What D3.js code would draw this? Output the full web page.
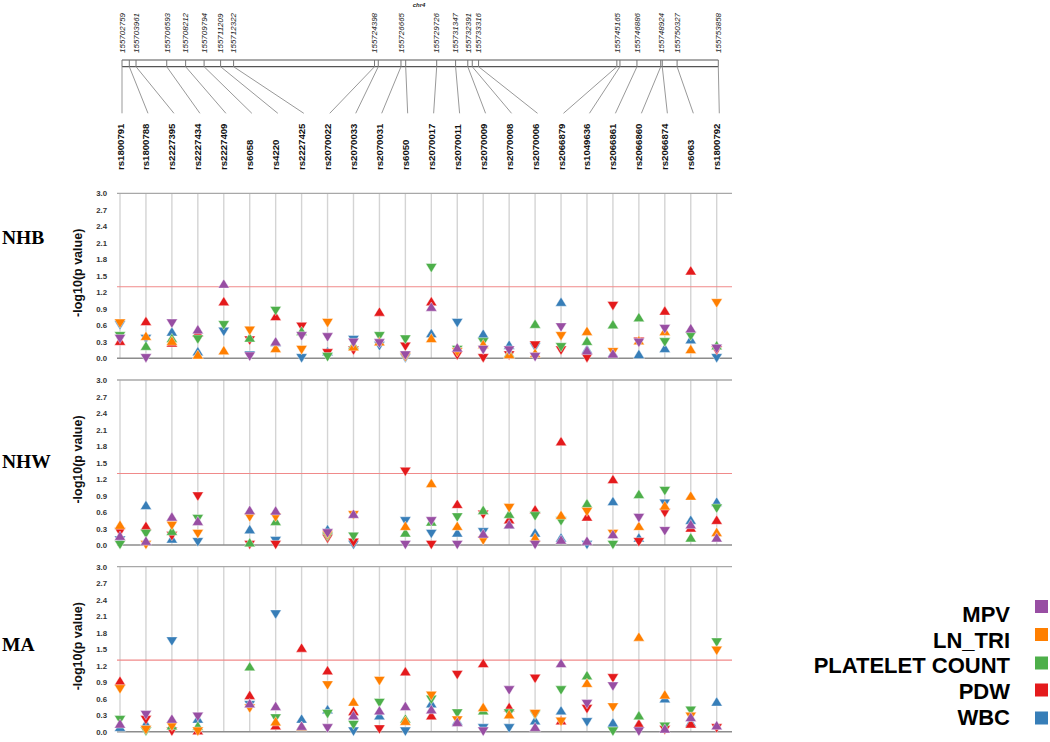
<!DOCTYPE html>
<html><head><meta charset="utf-8">
<script src="https://cdn.jsdelivr.net/npm/d3@7"></script>
<style>body{margin:0;background:#fff}svg{display:block}</style>
</head><body>
<svg id="c" width="1050" height="742"></svg>
<script>
// ---------------- DATA ----------------
const snps = ["rs1800791","rs1800788","rs2227395","rs2227434","rs2227409","rs6058","rs4220","rs2227425",
  "rs2070022","rs2070033","rs2070031","rs6050","rs2070017","rs2070011","rs2070009","rs2070008",
  "rs2070006","rs2066879","rs1049636","rs2066861","rs2066860","rs2066874","rs6063","rs1800792"];
const snpPositions = [155702759,155703385,155703961,155706593,155708212,155709794,155711209,155712322,
  155724398,155724720,155726665,155727070,155729726,155731347,155732391,155732775,
  155733316,155745165,155745430,155746886,155748924,155749055,155750327,155753858];
const positionLabels = [155702759,155703961,155706593,155708212,155709794,155711209,155712322,155724398,
  155726665,155729726,155731347,155732391,155733316,155745165,155746886,155748924,155750327,155753858];
const chromosome = "chr4";
const traits = ["MPV","LN_TRI","PLATELET COUNT","PDW","WBC"];
const traitColors = ["#984ea3","#ff7f00","#4daf4a","#e41a1c","#377eb8"];
const yTicks = [0.0,0.3,0.6,0.9,1.2,1.5,1.8,2.1,2.4,2.7,3.0];
const threshold = 1.301;
const panelNames = ["NHB","NHW","MA"];

// values = -log10(p); direction strings (groups of 4 SNPs): u = up triangle, d = down triangle, - = not tested
const nhbMPV   = [0.35,0.0,0.63,0.53,1.36,0.03,0.31,0.4,0.38,0.28,0.27,0.05,0.94,0.2,0.15,0.14,0.02,0.56,0.15,0.09,0.28,0.53,0.55,0.17];
const nhbMPVDir   = "dddu udud dddd uudd dduu ddud";
const nhbLNTRI = [0.63,0.41,0.32,0.07,0.15,0.5,0.19,0.15,0.64,0.22,0.31,0.02,0.37,0.11,0.26,0.08,0.1,0.4,0.5,0.11,0.33,0.5,0.17,1.0];
const nhbLNTRIDir = "duuu udud duud uduu udud uuud";
const nhbPLT   = [0.4,0.23,0.37,0.34,0.6,0.38,0.86,0.5,0.02,0.25,0.4,0.34,1.64,0.15,0.29,0.1,0.63,0.2,0.32,0.62,0.75,0.29,0.4,0.24];
const nhbPLTDir   = "duud dudu dudd dddu uduu uddu";
const nhbPDW   = [0.32,0.68,0.29,0.47,1.04,0.32,0.77,0.57,0.09,0.14,0.85,0.21,1.04,0.05,0.0,0.05,0.23,0.14,0.0,0.95,0.3,0.87,1.6,0.14];
const nhbPDWDir   = "uuuu udud ddud uddd dddd duud";
const nhbWBC   = [0.6,0.35,0.49,0.13,0.48,0.05,0.3,0.0,0.13,0.33,0.22,0.0,0.46,0.64,0.45,0.25,0.2,1.03,0.17,0.1,0.08,0.19,0.35,0.0];
const nhbWBCDir   = "dduu ddud uddd uduu duuu uuud";

const nhwMPV   = [0.17,0.08,0.52,0.44,null,0.64,0.63,null,0.21,0.57,null,0.0,0.43,0.0,0.21,0.38,0.0,0.1,0.08,0.2,0.49,0.25,0.38,0.14];
const nhwMPVDir   = "uuuu -uu- du-d dduu duuu dduu";
const nhwLNTRI = [0.37,0.0,0.35,0.2,null,0.5,0.5,null,0.18,0.54,null,0.35,1.13,0.35,0.08,0.67,0.14,0.55,0.6,0.2,0.35,0.72,0.9,0.24];
const nhwLNTRIDir = "uddd -dd- dd-u uudd uudd uuuu";
const nhwPLT   = [0.0,0.2,0.26,0.47,null,0.05,0.44,null,0.15,0.15,null,0.23,0.43,0.5,0.64,0.57,0.52,0.43,0.76,0.0,0.93,0.98,0.14,0.66];
const nhwPLTDir   = "ddud -uu- dd-u uduu ddud udud";
const nhwPDW   = [0.23,0.35,0.16,0.88,null,0.0,0.0,null,0.11,0.04,null,1.33,0.0,0.75,0.55,0.47,0.65,1.89,0.52,1.2,0.05,0.58,0.32,0.46];
const nhwPDWDir   = "dudd -dd- dd-d dudu uuuu dduu";
const nhwWBC   = [0.08,0.73,0.12,0.05,null,0.29,0.07,null,0.29,0.0,null,0.43,0.2,0.23,0.23,0.38,0.23,0.14,0.0,0.8,0.14,0.75,0.46,0.79];
const nhwWBCDir   = "duud -ud- ud-d dudu uudu uduu";

const maMPV    = [0.15,0.3,0.24,0.27,null,0.52,0.47,0.11,0.06,0.3,0.39,0.47,0.41,0.18,0.0,0.75,0.09,1.25,0.5,0.82,0.0,0.06,0.27,0.12];
const maMPVDir    = "udud -uuu duuu uudd uudd duuu";
const maLNTRI  = [0.77,0.03,0.09,0.0,null,0.42,0.19,0.1,0.84,0.55,0.92,0.2,0.65,0.2,0.45,0.32,0.32,0.18,0.89,0.44,1.73,0.68,0.27,1.47];
const maLNTRIDir  = "dddd -duu dudu dduu ddud uudd";
const maPLT    = [0.21,0.0,0.12,0.11,null,1.19,0.24,0.1,0.32,0.12,0.52,0.24,0.58,0.33,0.39,0.33,0.3,0.75,1.03,0.0,0.3,0.09,0.38,1.62];
const maPLTDir    = "dduu -udu dddu ddud ddud uddd";
const maPDW    = [0.93,0.21,0.0,0.03,null,0.67,0.12,1.53,1.12,0.38,0.04,1.1,0.3,1.03,1.25,0.45,0.96,0.21,0.41,0.97,0.15,0.03,0.15,0.06];
const maPDWDir    = "uddu -uuu uudu uduu dudd udud";
const maWBC    = [0.09,0.15,1.64,0.24,null,0.48,2.13,0.24,0.41,0.0,0.3,0.0,0.52,0.2,0.06,0.06,0.21,0.39,0.17,0.17,0.15,0.61,0.18,0.55];
const maWBCDir    = "uudu -ddu udud uudd uudu uuuu";

const panelValues = [
  [nhbMPV,nhbLNTRI,nhbPLT,nhbPDW,nhbWBC],
  [nhwMPV,nhwLNTRI,nhwPLT,nhwPDW,nhwWBC],
  [maMPV,maLNTRI,maPLT,maPDW,maWBC]];
const panelDirs = [
  [nhbMPVDir,nhbLNTRIDir,nhbPLTDir,nhbPDWDir,nhbWBCDir],
  [nhwMPVDir,nhwLNTRIDir,nhwPLTDir,nhwPDWDir,nhwWBCDir],
  [maMPVDir,maLNTRIDir,maPLTDir,maPDWDir,maWBCDir]];

// ---------------- DRAW ----------------
const svg = d3.select("#c");
const SANS = "'Liberation Sans', Arial, Helvetica, sans-serif";
const SERIF = "'Liberation Serif', 'Times New Roman', serif";

// --- gene map ---
const gx = d3.scaleLinear().domain([positionLabels[0], positionLabels[positionLabels.length-1]]).range([122, 718.3]);
const connX = d3.scalePoint().domain(snps).range([122, 719.3]);
const boxTop = 60, boxBot = 66.7;
const gm = svg.append("g");
gm.append("text").attr("x", 419).attr("y", 7).attr("text-anchor","middle")
  .attr("font-family",SANS).attr("font-size",6).attr("font-style","italic").attr("font-weight","bold")
  .attr("fill","#222").text(chromosome);
gm.selectAll("line.ref").data([boxTop, boxBot]).join("line")
  .attr("x1", gx.range()[0]).attr("x2", gx.range()[1]).attr("y1", d=>d).attr("y2", d=>d)
  .attr("stroke","#555").attr("stroke-width",1.2);
gm.selectAll("line.tick").data(snpPositions).join("line")
  .attr("x1", d=>gx(d)).attr("x2", d=>gx(d)).attr("y1", boxTop).attr("y2", boxBot)
  .attr("stroke","#777").attr("stroke-width",1);
gm.selectAll("line.conn").data(snps).join("line")
  .attr("x1", (d,i)=>gx(snpPositions[i])).attr("y1", boxBot)
  .attr("x2", d=>connX(d)).attr("y2", 113.3)
  .attr("stroke","#999").attr("stroke-width",1);
gm.selectAll("text.pos").data(positionLabels).join("text")
  .attr("transform", d=>`translate(${gx(d)+2.8},53) rotate(-90)`)
  .attr("font-family",SANS).attr("font-size",8).attr("font-style","italic").attr("fill","#222").text(d=>d);

// --- SNP labels ---
const x = d3.scalePoint().domain(snps).range([120, 716.7]);
svg.append("g").selectAll("text").data(snps).join("text")
  .attr("transform", d=>`translate(${x(d)+3.5},170) rotate(-90)`)
  .attr("font-family",SANS).attr("font-size",9.6).attr("font-weight","bold").attr("fill","#111").text(d=>d);

// --- panels ---
const panelTops = [193.3, 380, 566.7];
const panelH = 165;
const labelBaselines = [244, 468, 651];
const triW = 5.6, triH = 4.6;
function tri(dir){
  return dir === "u"
    ? `M0,${-triH}L${triW},${triH}L${-triW},${triH}Z`
    : `M0,${triH}L${triW},${-triH}L${-triW},${-triH}Z`;
}

panelNames.forEach((name, p) => {
  const top = panelTops[p];
  const y = d3.scaleLinear().domain([0,3]).range([top+panelH, top]);
  const g = svg.append("g");

  g.selectAll("line.v").data(snps).join("line")
    .attr("x1", d=>x(d)).attr("x2", d=>x(d)).attr("y1", y(3)).attr("y2", y(0))
    .attr("stroke","#d4d4d4").attr("stroke-width",1.4);
  g.append("line").attr("x1",117).attr("x2",732).attr("y1",y(3)).attr("y2",y(3))
    .attr("stroke","#a8a8a8").attr("stroke-width",1.3);
  g.append("line").attr("x1",117).attr("x2",732).attr("y1",y(0)).attr("y2",y(0))
    .attr("stroke","#8c8c8c").attr("stroke-width",1.5);
  g.append("line").attr("x1",117).attr("x2",732).attr("y1",y(threshold)).attr("y2",y(threshold))
    .attr("stroke","#f08a8a").attr("stroke-width",1.1);

  const ax = g.append("g").attr("transform","translate(107,0)")
    .call(d3.axisLeft(y).tickValues(yTicks).tickFormat(d3.format(".1f")).tickSize(0).tickPadding(0));
  ax.select(".domain").remove();
  ax.selectAll("text").attr("font-family",SANS).attr("font-size",7.8).attr("font-weight","bold").attr("fill","#333");

  g.append("text").attr("transform",`translate(81.5,${top+panelH/2-3}) rotate(-90)`)
    .attr("text-anchor","middle").attr("font-family",SANS).attr("font-size",12.5).attr("font-weight","bold")
    .attr("fill","#111").text("-log10(p value)");

  g.append("text").attr("x",2).attr("y",labelBaselines[p])
    .attr("font-family",SERIF).attr("font-size",19.5).attr("font-weight","bold").attr("fill","#000").text(name);

  for (let t = traits.length-1; t >= 0; t--) {
    const vals = panelValues[p][t], dirs = panelDirs[p][t].replace(/ /g,"");
    const pts = snps.map((s,i)=>({s, v: vals[i], d: dirs[i]})).filter(o=>o.v !== null && o.d !== "-");
    g.append("g").selectAll("path").data(pts).join("path")
      .attr("transform", o=>`translate(${x(o.s)},${y(o.v)})`)
      .attr("d", o=>tri(o.d))
      .attr("fill", traitColors[t]).attr("stroke","#ffffff").attr("stroke-width",0.6).attr("stroke-opacity",0.7);
  }
});

// --- legend ---
const lg = svg.append("g");
const textBase = [622, 647.5, 673, 698.5, 724.5];
const boxY = [600, 628, 656.5, 683.5, 711.5];
lg.selectAll("text").data(traits).join("text")
  .attr("x",1010).attr("y",(d,i)=>textBase[i]).attr("text-anchor","end")
  .attr("font-family",SANS).attr("font-size",22).attr("font-weight","bold").attr("fill","#000").text(d=>d);
lg.selectAll("rect").data(traits).join("rect")
  .attr("x",1035).attr("y",(d,i)=>boxY[i]).attr("width",13).attr("height",13)
  .attr("fill",(d,i)=>traitColors[i]);
</script>
</body></html>
